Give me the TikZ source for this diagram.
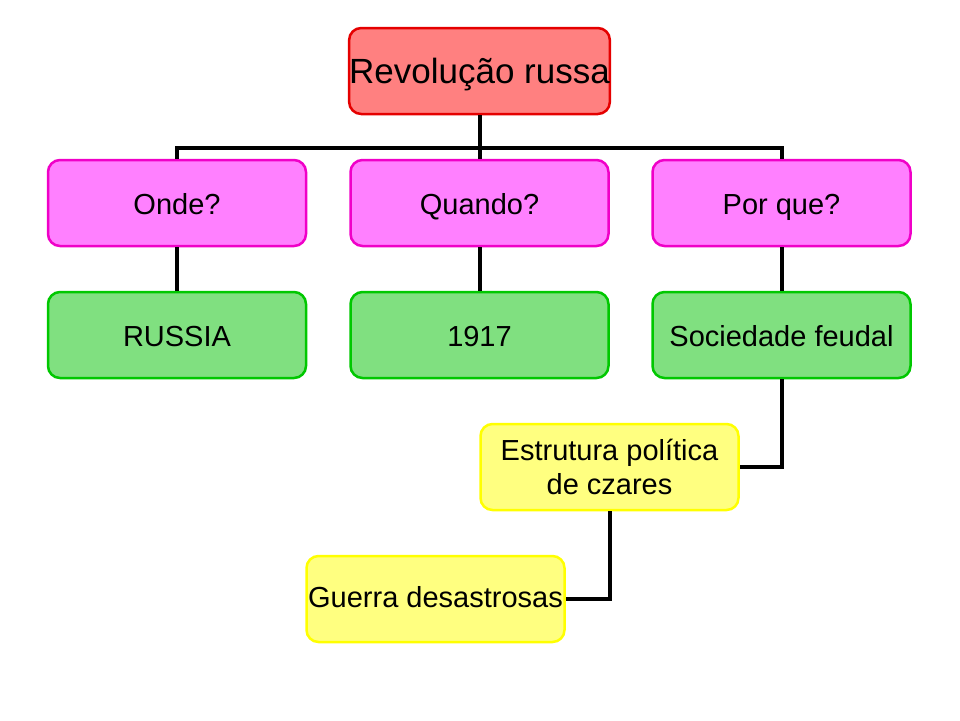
\documentclass[tikz,border=0pt]{standalone}
\usepackage{fontspec}
\setmainfont{Liberation Sans}
\begin{document}
\begin{tikzpicture}[x=1pt,y=-1pt,
  box/.style={rounded corners=12pt,line width=2.5pt,minimum width=258pt,minimum height=86pt,inner sep=0pt,align=center,font=\fontsize{29}{34}\selectfont,text=black},
  line1/.style={text height=26pt,text depth=4pt},
  redbox/.style={box,draw=red!90!black,fill={rgb,255:red,255;green,128;blue,128}},
  pinkbox/.style={box,line1,draw={rgb,255:red,240;green,0;blue,200},fill={rgb,255:red,255;green,128;blue,255}},
  greenbox/.style={box,line1,draw={rgb,255:red,0;green,200;blue,0},fill={rgb,255:red,128;green,224;blue,128}},
  yellowbox/.style={box,draw={rgb,255:red,255;green,255;blue,0},fill={rgb,255:red,255;green,255;blue,128}},
  link/.style={line width=4pt,black}]
\useasboundingbox (0,0) rectangle (960,720);
\fill[white] (0,0) rectangle (960,720);
\node[redbox,font=\fontsize{35}{40}\selectfont,text height=30pt,text depth=6pt] (top) at (479.5,71) {Revolução russa};
\node[pinkbox] (onde) at (177,203) {Onde?};
\node[pinkbox] (quando) at (479.5,203) {Quando?};
\node[pinkbox] (porque) at (781.5,203) {Por que?};
\node[greenbox] (russia) at (177,335) {RUSSIA};
\node[greenbox] (ano) at (479.5,335) {1917};
\node[greenbox] (soc) at (781.5,335) {Sociedade feudal};
\node[yellowbox] (estr) at (609.5,467) {Estrutura política\\de czares};
\node[yellowbox,text height=22pt,text depth=6pt] (guerra) at (435.5,599) {Guerra desastrosas};
\coordinate (bar) at (479.5,148);
\draw[link] (top.south) -- (bar);
\draw[link] (onde.north) |- (bar) -| (porque.north);
\draw[link] (quando.north) -- (bar);
\draw[link] (onde.south) -- (russia.north);
\draw[link] (quando.south) -- (ano.north);
\draw[link] (porque.south) -- (soc.north);
\draw[link] (soc.south) |- (estr.east);
\draw[link] (estr.south) |- (guerra.east);
\end{tikzpicture}
\end{document}
